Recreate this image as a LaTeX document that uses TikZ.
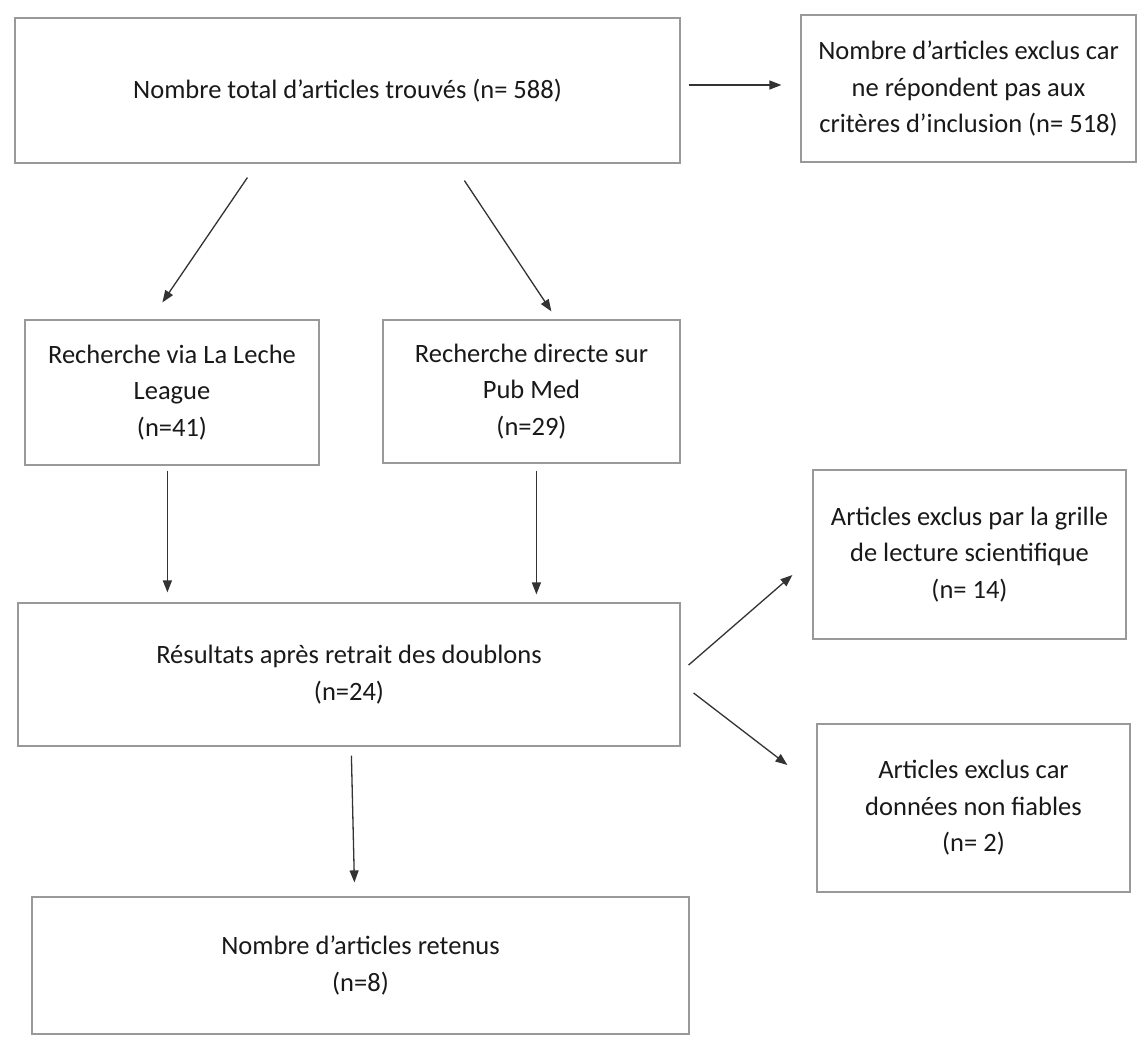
\documentclass[tikz,border=0pt]{standalone}
\usepackage{fontspec}
\setmainfont{Carlito}
\usetikzlibrary{arrows.meta}
\begin{document}
\begin{tikzpicture}[x=1pt,y=-1pt,
  box/.style={draw=black!40, line width=1.2pt, fill=white, align=center,
    font=\fontsize{26.5}{36.5}\selectfont, text=black!90, inner sep=0pt},
  arr/.style={-{Triangle[length=12pt,width=9pt]}, line width=1.3pt, draw=black!80}]
\useasboundingbox[fill=white] (0,0) rectangle (1139,1036);
\node[box, minimum width=665pt, minimum height=145pt] (A) at (347.5,90.5) {Nombre total d’articles trouvés (n= 588)};
\node[box, minimum width=335pt, minimum height=147pt] (B) at (968.5,88.5) {Nombre d’articles exclus car\\ne répondent pas aux\\critères d’inclusion (n= 518)};
\node[box, minimum width=294pt, minimum height=145pt] (C) at (172,392.5) {Recherche via La Leche\\League\\(n=41)};
\node[box, minimum width=297pt, minimum height=143pt] (D) at (531.5,391.5) {Recherche directe sur\\Pub Med\\(n=29)};
\node[box, minimum width=662pt, minimum height=143pt] (E) at (349,674.5) {Résultats après retrait des doublons\\(n=24)};
\node[box, minimum width=313pt, minimum height=169pt] (F) at (969.5,554.5) {Articles exclus par la grille\\de lecture scientifique\\(n= 14)};
\node[box, minimum width=313pt, minimum height=168pt] (G) at (973.5,808) {Articles exclus car\\données non fiables\\(n= 2)};
\node[box, minimum width=657pt, minimum height=137pt] (H) at (360.5,965.5) {Nombre d’articles retenus\\(n=8)};

\draw[arr] ([shift={(8,-5.5)}]A.east) -- ([shift={(-19,-3.5)}]B.west);
\draw[arr] ([shift={(233,14)}]A.south west) -- ([shift={(138,-17)}]C.north west);
\draw[arr] ([shift={(450,17)}]A.south west) -- ([shift={(169,-8)}]D.north west);
\draw[arr] ([shift={(143,5)}]C.south west) -- ([shift={(150,-10)}]E.north west);
\draw[arr] ([shift={(154,7)}]D.south west) -- ([shift={(519,-8)}]E.north west);
\draw[arr] ([shift={(8,-9.5)}]E.east) -- ([shift={(-20,20.5)}]F.west);
\draw[arr] ([shift={(13,18.5)}]E.east) -- ([shift={(-29,-43)}]G.west);
\draw[arr] ([shift={(334,9)}]E.south west) -- ([shift={(323,-14)}]H.north west);
\end{tikzpicture}
\end{document}
